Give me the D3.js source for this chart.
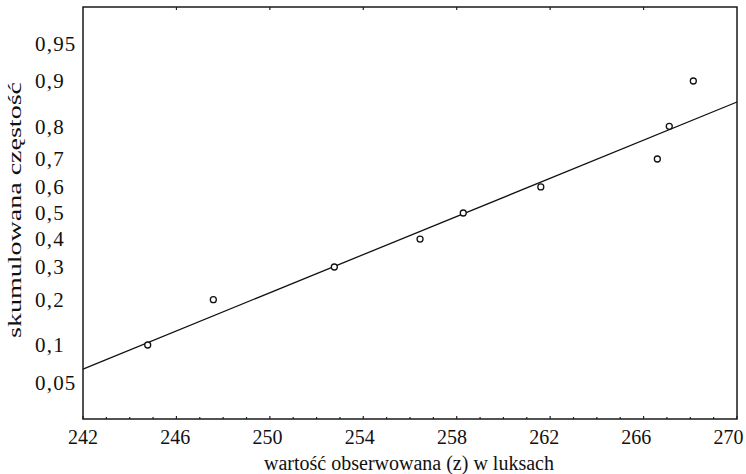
<!DOCTYPE html>
<head>
<script src="https://d3js.org/d3.v7.min.js"></script>
<meta charset="utf-8">
<style>
body { margin: 0; background: #fff; }
text { font-family: "Liberation Serif", "Times New Roman", serif; fill: #111; }
</style>
</head>
<body>
<svg id="chart"></svg>
<script>

// data
var obsValues = [244.77, 247.58, 252.76, 256.43, 258.28, 261.60, 266.59, 267.10, 268.13];
var cumFreq   = [0.1, 0.2, 0.3, 0.4, 0.5, 0.6, 0.7, 0.8, 0.9];

// fitted normal line (mean, sd) and its x extent
var fitMean = 258.36,
    fitSd = 10.8,
    fitRange = [242, 270];

var xTicks = [242, 246, 250, 254, 258, 262, 266, 270];
var yTicks = [0.05, 0.1, 0.2, 0.3, 0.4, 0.5, 0.6, 0.7, 0.8, 0.9, 0.95];
var yTickLabels = ["0,05", "0,1", "0,2", "0,3", "0,4", "0,5", "0,6", "0,7", "0,8", "0,9", "0,95"];

var width = 746, height = 474;
var margin = {left: 83, right: 9, top: 7, bottom: 55};

// inverse normal cdf (Acklam, central region is enough for 0.05..0.95)
function probit(p) {
    var a = [-3.969683028665376e+01, 2.209460984245205e+02, -2.759285104469687e+02,
             1.383577518672690e+02, -3.066479806614716e+01, 2.506628277459239e+00];
    var b = [-5.447609879822406e+01, 1.615858368580409e+02, -1.556989798598866e+02,
             6.680131188771972e+01, -1.328068155288572e+01];
    var q = p - 0.5, r = q * q;
    return (((((a[0]*r+a[1])*r+a[2])*r+a[3])*r+a[4])*r+a[5]) * q /
           (((((b[0]*r+b[1])*r+b[2])*r+b[3])*r+b[4])*r+1);
}

var svg = d3.select("#chart")
    .attr("width", width)
    .attr("height", height);

var x = d3.scaleLinear()
    .domain([242, 270])
    .range([margin.left, width - margin.right]);

// y works in z-units of the normal distribution
var y = d3.scaleLinear()
    .domain([-2, 2])
    .range([height - margin.bottom, margin.top]);

var x0 = x.range()[0], x1 = x.range()[1],
    yb = y.range()[0], yt = y.range()[1];

// minor ticks along bottom (inside)
svg.append("g")
    .selectAll("line")
    .data(d3.range(242, 271, 1))
    .join("line")
    .attr("x1", d => x(d)).attr("x2", d => x(d))
    .attr("y1", yb).attr("y2", d => yb - (d % 4 === 2 ? 3 : 2))
    .attr("stroke", "#222").attr("stroke-width", 1.2);

// ticks along top
svg.append("g")
    .selectAll("line")
    .data(xTicks.slice(1, -1))
    .join("line")
    .attr("x1", d => x(d)).attr("x2", d => x(d))
    .attr("y1", yt).attr("y2", yt + 3)
    .attr("stroke", "#222").attr("stroke-width", 1.2);

// frame
svg.append("rect")
    .attr("x", x0).attr("y", yt)
    .attr("width", x1 - x0).attr("height", yb - yt)
    .attr("fill", "none")
    .attr("stroke", "#1a1a1a")
    .attr("stroke-width", 1.5);

// fitted line
var line = d3.line()
    .x(d => x(d))
    .y(d => y((d - fitMean) / fitSd));

svg.append("path")
    .datum(fitRange)
    .attr("d", line)
    .attr("fill", "none")
    .attr("stroke", "#111")
    .attr("stroke-width", 1.3);

// observed points
svg.append("g")
    .selectAll("circle")
    .data(obsValues)
    .join("circle")
    .attr("cx", d => x(d))
    .attr("cy", (d, i) => y(probit(cumFreq[i])))
    .attr("r", 3)
    .attr("fill", "#fff")
    .attr("stroke", "#111")
    .attr("stroke-width", 1.3);

// x tick labels
svg.append("g")
    .selectAll("text")
    .data(xTicks)
    .join("text")
    .attr("x", d => x(d))
    .attr("dx", d => -(d - 242) * 0.3)
    .attr("y", 444)
    .attr("text-anchor", "middle")
    .style("font-size", "20px")
    .text(d => d);

// y tick labels
svg.append("g")
    .selectAll("text")
    .data(yTicks)
    .join("text")
    .attr("x", 35)
    .attr("y", d => y(probit(d)))
    .attr("dy", "0.35em")
    .style("font-size", "21px")
    .style("letter-spacing", "1.2px")
    .text((d, i) => yTickLabels[i]);

// axis titles
svg.append("text")
    .attr("x", (x0 + x1) / 2)
    .attr("dx", -1)
    .attr("y", 470)
    .attr("text-anchor", "middle")
    .style("font-size", "20px")
    .text("wartość obserwowana (z) w luksach");

svg.append("text")
    .attr("transform", "translate(21,210) rotate(-90)")
    .attr("text-anchor", "middle")
    .attr("textLength", 256)
    .attr("lengthAdjust", "spacingAndGlyphs")
    .style("font-size", "18px")
    .text("skumulowana częstość");

</script>
</body>
